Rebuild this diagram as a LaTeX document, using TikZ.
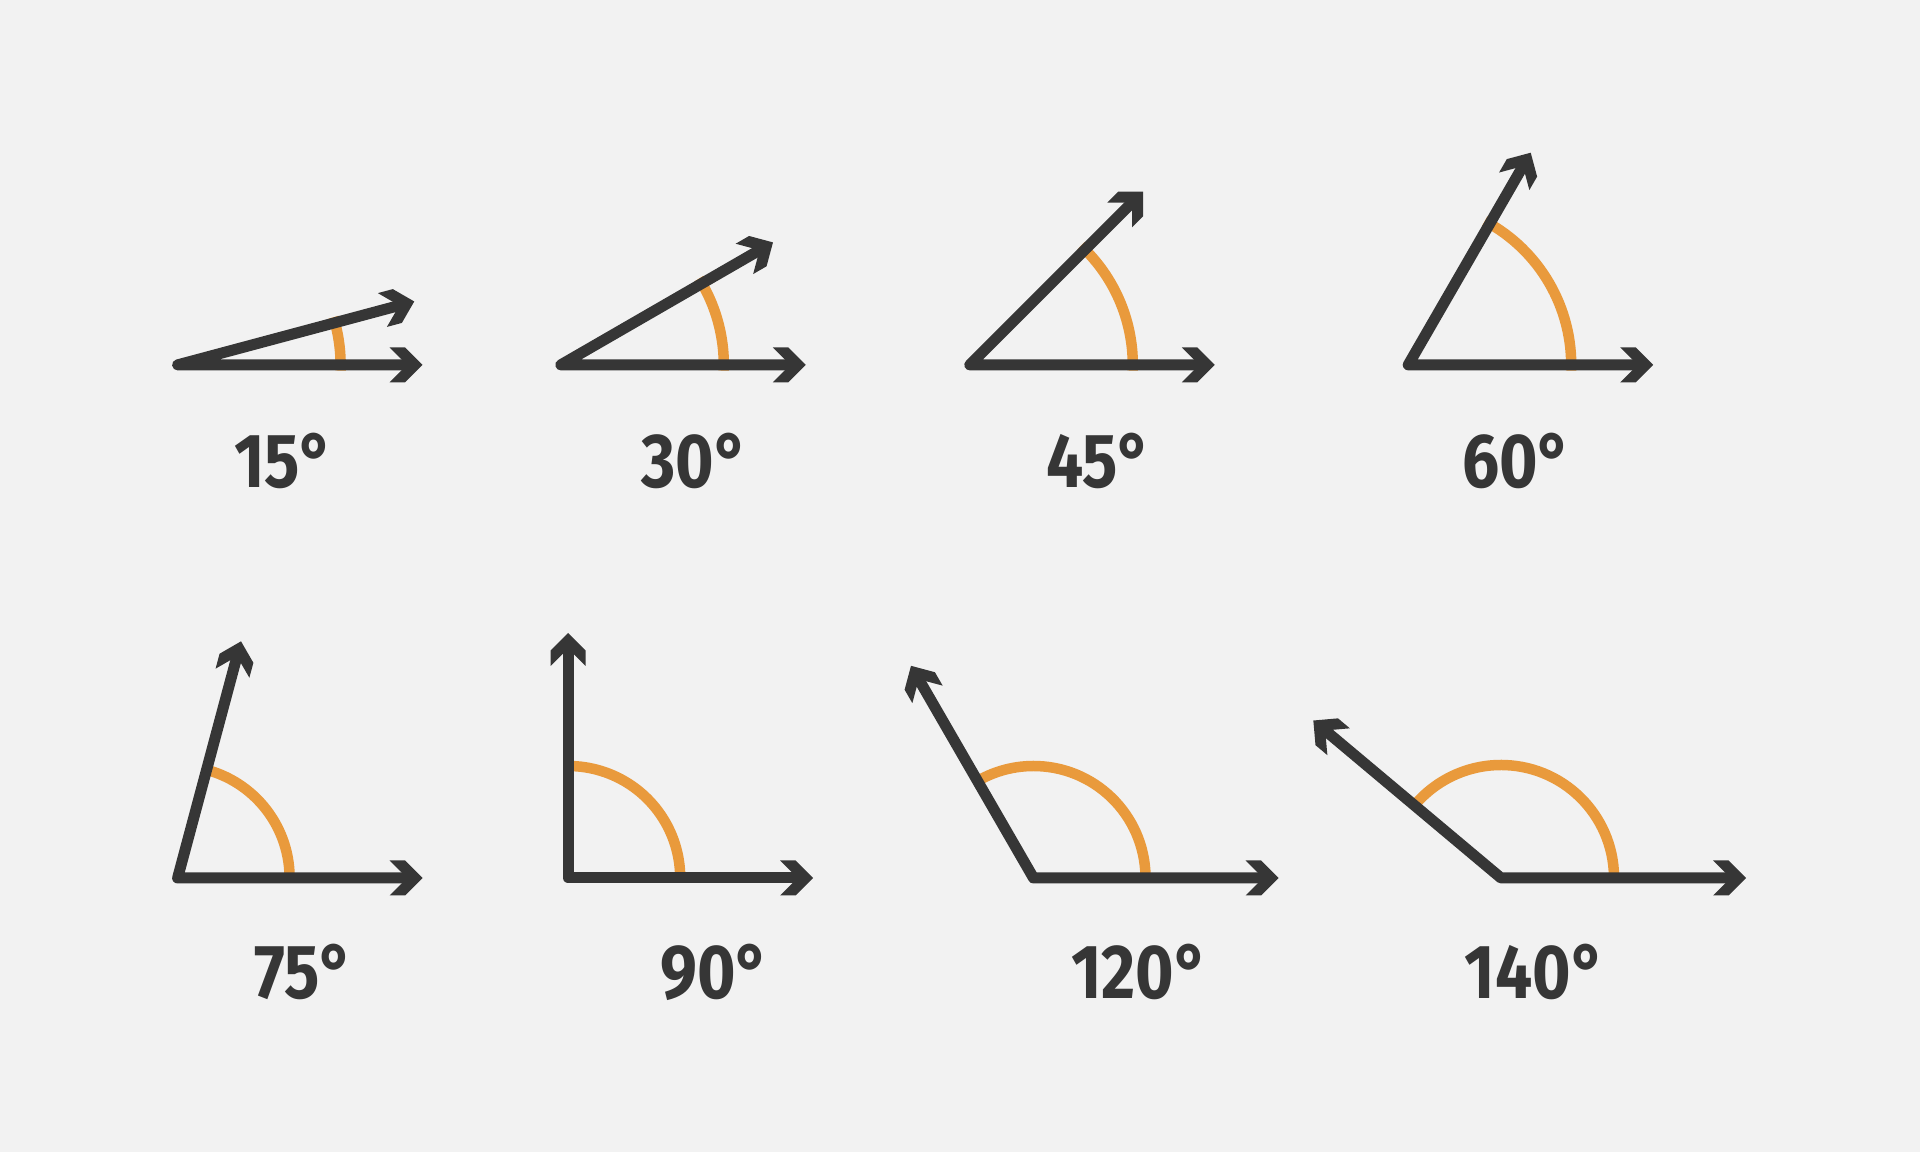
\documentclass[tikz,border=0pt]{standalone}
\usepackage{fontspec}
\setmainfont{Fira Sans}[FakeStretch=0.86]
\usepackage{tikz}

\definecolor{bakgrunn}{HTML}{F2F2F2}
\definecolor{mork}{HTML}{363636}
\definecolor{oransje}{HTML}{E99A3C}

\tikzset{
  straale/.style={draw=mork, line width=0.11cm, line cap=round, line join=round},
  bue/.style={draw=oransje, line width=0.105cm},
  tall/.style={text=mork, font=\fontsize{21.8}{26}\selectfont\bfseries},
  pil/.pic={\fill[mork] (0,0) -- (-0.175,0.175) -- (-0.33,0.175) -- (-0.155,0)
             -- (-0.33,-0.175) -- (-0.175,-0.175) -- cycle;}
}

\begin{document}
\begin{tikzpicture}
  % Bakgrunn
  \fill[bakgrunn] (0,0) rectangle (19.2,11.52);

  % Vinkelen 15
  \coordinate (A15) at (1.776,7.871);
  \draw[bue] (A15) ++(-2:1.63) arc[start angle=-2, end angle=17, radius=1.63];
  \draw[straale] (A15) ++(15:2.35) -- (A15) -- ++(2.35,0);
  \pic[rotate=15] at ([shift={(15:2.45)}]A15) {pil};
  \pic at ([shift={(2.45,0)}]A15) {pil};
  \node[tall] (T15) at (2.84,6.91) {15°};

  % Vinkelen 30
  \coordinate (A30) at (5.608,7.871);
  \draw[bue] (A30) ++(-2:1.63) arc[start angle=-2, end angle=32, radius=1.63];
  \draw[straale] (A30) ++(30:2.35) -- (A30) -- ++(2.35,0);
  \pic[rotate=30] at ([shift={(30:2.45)}]A30) {pil};
  \pic at ([shift={(2.45,0)}]A30) {pil};
  \node[tall] (T30) at (6.95,6.91) {30°};

  % Vinkelen 45
  \coordinate (A45) at (9.698,7.871);
  \draw[bue] (A45) ++(-2:1.63) arc[start angle=-2, end angle=47, radius=1.63];
  \draw[straale] (A45) ++(45:2.35) -- (A45) -- ++(2.35,0);
  \pic[rotate=45] at ([shift={(45:2.45)}]A45) {pil};
  \pic at ([shift={(2.45,0)}]A45) {pil};
  \node[tall] (T45) at (10.99,6.91) {45°};

  % Vinkelen 60
  \coordinate (A60) at (14.082,7.871);
  \draw[bue] (A60) ++(-2:1.63) arc[start angle=-2, end angle=62, radius=1.63];
  \draw[straale] (A60) ++(60:2.35) -- (A60) -- ++(2.35,0);
  \pic[rotate=60] at ([shift={(60:2.45)}]A60) {pil};
  \pic at ([shift={(2.45,0)}]A60) {pil};
  \node[tall] (T60) at (15.17,6.91) {60°};

  % Vinkelen 75
  \coordinate (A75) at (1.776,2.74);
  \draw[bue] (A75) ++(-2:1.12) arc[start angle=-2, end angle=77, radius=1.12];
  \draw[straale] (A75) ++(75:2.35) -- (A75) -- ++(2.35,0);
  \pic[rotate=75] at ([shift={(75:2.45)}]A75) {pil};
  \pic at ([shift={(2.45,0)}]A75) {pil};
  \node[tall] (T75) at (3.04,1.80) {75°};

  % Vinkelen 90
  \coordinate (A90) at (5.682,2.74);
  \draw[bue] (A90) ++(-2:1.12) arc[start angle=-2, end angle=92, radius=1.12];
  \draw[straale] (A90) ++(90:2.35) -- (A90) -- ++(2.35,0);
  \pic[rotate=90] at ([shift={(90:2.45)}]A90) {pil};
  \pic at ([shift={(2.45,0)}]A90) {pil};
  \node[tall] (T90) at (7.15,1.80) {90°};

  % Vinkelen 120
  \coordinate (A120) at (10.335,2.74);
  \draw[bue] (A120) ++(-2:1.12) arc[start angle=-2, end angle=122, radius=1.12];
  \draw[straale] (A120) ++(120:2.35) -- (A120) -- ++(2.35,0);
  \pic[rotate=120] at ([shift={(120:2.45)}]A120) {pil};
  \pic at ([shift={(2.45,0)}]A120) {pil};
  \node[tall] (T120) at (11.40,1.80) {120°};

  % Vinkelen 140
  \coordinate (A140) at (15.01,2.74);
  \draw[bue] (A140) ++(-2:1.13) arc[start angle=-2, end angle=142, radius=1.13];
  \draw[straale] (A140) ++(140:2.35) -- (A140) -- ++(2.35,0);
  \pic[rotate=140] at ([shift={(140:2.45)}]A140) {pil};
  \pic at ([shift={(2.45,0)}]A140) {pil};
  \node[tall] (T140) at (15.35,1.80) {140°};
\end{tikzpicture}
\end{document}
